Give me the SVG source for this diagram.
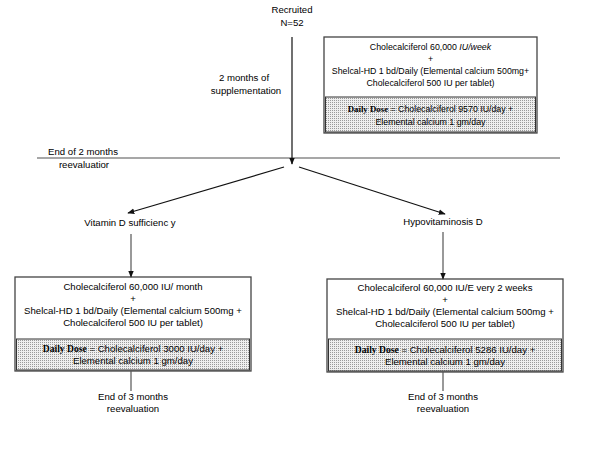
<svg xmlns="http://www.w3.org/2000/svg" width="600" height="449" viewBox="0 0 600 449">
<style>
text{font-family:"Liberation Sans",Arial,sans-serif;fill:#000;text-anchor:middle}
.s{font-size:9.6px}
.t{font-size:8.8px}
.b{font-family:"Liberation Serif","Times New Roman",serif;font-weight:bold}
.box{fill:#fff;stroke:#444;stroke-width:1.3}
.shade{fill:url(#dots);stroke:#333;stroke-width:1}
.ln{stroke:#111;stroke-width:1.2;fill:none}
.gl{stroke:#555;stroke-width:1.2;fill:none}
</style>
<defs>
<pattern id="dots" width="2" height="2" patternUnits="userSpaceOnUse">
<rect width="2" height="2" fill="#efefef"/>
<rect width="1" height="1" fill="#9a9a9a"/>
</pattern>
<marker id="ah" viewBox="0 0 10 10" refX="9" refY="5" markerWidth="7" markerHeight="7" orient="auto" markerUnits="userSpaceOnUse">
<path d="M0,1 L10,5 L0,9 z" fill="#111"/>
</marker>
</defs>

<g id="recruited">
<text class="s" x="292" y="13">Recruited</text>
<text class="s" x="292" y="26">N=52</text>
</g>

<g id="supp-label">
<text class="s" x="244" y="81">2 months of</text>
<text class="s" x="246" y="94">supplementation</text>
</g>

<g id="top-box">
<rect class="box" x="324" y="37" width="213" height="96"/>
<rect class="shade" x="325.5" y="97" width="210" height="35"/>
<text class="t" x="430.5" y="50">Cholecalciferol 60,000 <tspan font-style="italic">IU/week</tspan></text>
<text class="t" x="430.5" y="62">+</text>
<text class="t" x="430.5" y="74">Shelcal-HD 1 bd/Daily (Elemental calcium 500mg+</text>
<text class="t" x="430.5" y="86">Cholecalciferol 500 IU per tablet)</text>
<text class="t" x="430.5" y="112"><tspan class="b">Daily Dose</tspan> = Cholecalciferol 9570 IU/day +</text>
<text class="t" x="430.5" y="125">Elemental calcium 1 gm/day</text>
</g>

<g id="reeval-2m">
<text class="s" x="83" y="155">End of 2 months</text>
<text class="s" x="84" y="168">reevaluatior</text>
</g>

<g id="vit-d-suff">
<text class="s" x="130" y="226">Vitamin D sufficienc y</text>
</g>

<g id="hypovit">
<text class="s" x="443" y="225">Hypovitaminosis D</text>
</g>

<g id="left-box">
<rect class="box" x="15" y="277" width="236" height="94"/>
<rect class="shade" x="16.5" y="339" width="233" height="31"/>
<text class="s" x="133" y="290">Cholecalciferol 60,000 IU/ month</text>
<text class="s" x="133" y="302">+</text>
<text class="s" x="133" y="314">Shelcal-HD 1 bd/Daily (Elemental calcium 500mg +</text>
<text class="s" x="133" y="326">Cholecalciferol 500 IU per tablet)</text>
<text class="s" x="133" y="352"><tspan class="b">Daily Dose</tspan> = Cholecalciferol 3000 IU/day +</text>
<text class="s" x="133" y="364">Elemental calcium 1 gm/day</text>
</g>

<g id="right-box">
<rect class="box" x="327" y="279" width="236" height="93"/>
<rect class="shade" x="328.5" y="339" width="233" height="32"/>
<text class="s" x="445" y="291">Cholecalciferol 60,000 IU/E very 2 weeks</text>
<text class="s" x="445" y="303">+</text>
<text class="s" x="445" y="315">Shelcal-HD 1 bd/Daily (Elemental calcium 500mg +</text>
<text class="s" x="445" y="327">Cholecalciferol 500 IU per tablet)</text>
<text class="s" x="445" y="353"><tspan class="b">Daily Dose</tspan> = Cholecalciferol 5286 IU/day +</text>
<text class="s" x="445" y="365">Elemental calcium 1 gm/day</text>
</g>

<g id="reeval-3m-left">
<text class="s" x="133" y="400">End of 3 months</text>
<text class="s" x="133" y="412">reevaluation</text>
</g>

<g id="reeval-3m-right">
<text class="s" x="443" y="400">End of 3 months</text>
<text class="s" x="443" y="412">reevaluation</text>
</g>

<g id="connectors">
<line x1="37" y1="158" x2="560" y2="158" stroke="#8a8a8a" stroke-width="1.5"/>
<line class="ln" x1="292" y1="37" x2="292" y2="164" marker-end="url(#ah)"/>
<line class="ln" x1="284" y1="167" x2="128" y2="213" marker-end="url(#ah)"/>
<line class="ln" x1="299" y1="167" x2="445" y2="214" marker-end="url(#ah)"/>
<line class="gl" x1="131" y1="234" x2="131" y2="277" marker-end="url(#ah)"/>
<line class="gl" x1="443" y1="232" x2="443" y2="279" marker-end="url(#ah)"/>
<line class="gl" x1="131" y1="371" x2="131" y2="391"/>
<line class="gl" x1="443" y1="372" x2="443" y2="391"/>
</g>
</svg>
